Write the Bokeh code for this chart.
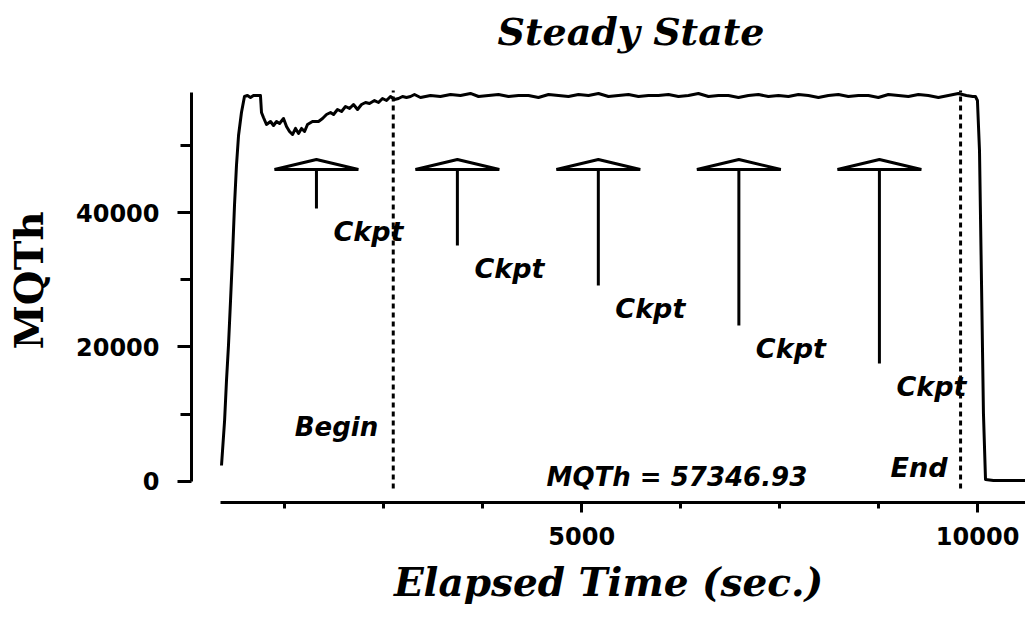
from bokeh.plotting import figure
from bokeh.models import Range1d, FixedTicker
from bokeh.embed import file_html
from bokeh.resources import INLINE
from bokeh.core.properties import value

# ---- data ----
time_s = [451, 490, 514, 539, 565, 590, 615, 640, 666, 703, 741, 779, 817, 855, 905, 943,
          956, 981, 1019, 1070, 1108, 1146, 1184, 1234, 1272, 1310, 1348, 1386, 1424, 1462,
          1500, 1537, 1600, 1676, 1727, 1777, 1828, 1866, 1916, 1967, 2017, 2068, 2118,
          2169, 2219, 2270, 2320, 2383, 2434, 2484, 2535, 2585, 2636, 2686, 2737, 2787,
          2838, 2888, 2964, 3090, 3216, 3343, 3469, 3595, 3697, 3823, 3949, 4076, 4202,
          4328, 4454, 4581, 4707, 4833, 4959, 5086, 5212, 5338, 5464, 5591, 5717, 5843,
          5969, 6096, 6222, 6348, 6474, 6601, 6727, 6853, 6980, 7106, 7232, 7358, 7485,
          7611, 7737, 7863, 7990, 8116, 8242, 8368, 8495, 8621, 8747, 8873, 9000, 9126,
          9252, 9378, 9505, 9631, 9757, 9858, 9939, 9973, 9998, 10024, 10049, 10074,
          10100, 10200, 10400, 10605]
mqth = [2380, 9070, 15020, 20220, 26910, 33610, 41040, 46990, 51450, 54870, 57250, 57400,
        57100, 57400, 57400, 57400, 54870, 54130, 53090, 53530, 52940, 53530, 53240, 53980,
        52790, 52050, 51600, 52500, 51750, 52500, 52050, 53090, 53530, 53530, 53980, 54570,
        54870, 54570, 55320, 55020, 55760, 55470, 56060, 55320, 56060, 56360, 56210, 56650,
        56360, 56950, 56650, 57250, 56800, 56950, 57250, 57100, 57250, 57550, 57100, 57400,
        57250, 57550, 57400, 57700, 57250, 57400, 57550, 57250, 57400, 57400, 57100, 57550,
        57400, 57250, 57550, 57400, 57700, 57250, 57400, 57550, 57250, 57400, 57400, 57550,
        57250, 57400, 57700, 57250, 57400, 57400, 57100, 57400, 57550, 57250, 57400, 57250,
        57550, 57400, 57100, 57400, 57550, 57250, 57400, 57400, 57100, 57550, 57400, 57250,
        57550, 57400, 57100, 57400, 57700, 57400, 57250, 57250, 56650, 49220, 29890, 10110,
        300, 150, 150, 150]

ckpt_time = [1650, 3430, 5210, 6985, 8760]
ckpt_stem_bottom = [40600, 35090, 29150, 23200, 17550]
ckpt_labels = ["Ckpt", "Ckpt", "Ckpt", "Ckpt", "Ckpt"]
begin_time = 2620
end_time = 9785
mqth_mean = 57346.93

x_major = [5000, 10000]
x_minor = [1250, 2500, 3750, 6250, 7500, 8750]
y_major = [0, 20000, 40000]
y_minor = [10000, 30000, 50000]

# ---- style constants ----
TRI_HALF = 530
TRI_BASE = 46390
TRI_APEX = 47880
DASH_LOW = -1040
DASH_HIGH = 58140

p = figure(width=1025, height=618, output_backend="svg", toolbar_location=None,
           x_range=Range1d(72, 10605), y_range=Range1d(-3123, 62900),
           min_border_left=191, min_border_right=0, min_border_top=58,
           min_border_bottom=116, title="Steady State")
p.outline_line_color = None
p.grid.visible = False
p.background_fill_color = "white"

p.title.align = "left"
p.title.offset = 306
p.title.standoff = 10
p.title.text_font = "DejaVu Serif"
p.title.text_font_style = "bold italic"
p.title.text_font_size = "38px"
p.title.text_color = "black"

# main series
p.line(time_s, mqth, line_width=3, line_color="black", line_join="round")

# begin / end dashed markers
p.segment(x0=[begin_time, end_time], y0=[DASH_LOW, DASH_LOW],
          x1=[begin_time, end_time], y1=[DASH_HIGH, DASH_HIGH],
          line_color="black", line_width=3, line_dash="5 4")

# checkpoint markers
xs = [[c - TRI_HALF, c + TRI_HALF, c] for c in ckpt_time]
ys = [[TRI_BASE, TRI_BASE, TRI_APEX] for _ in ckpt_time]
p.patches(xs, ys, fill_color="white", line_color="black", line_width=3)
p.segment(x0=ckpt_time, y0=[TRI_BASE] * len(ckpt_time), x1=ckpt_time, y1=ckpt_stem_bottom,
          line_color="black", line_width=3)

label_font = dict(text_font=value("DejaVu Sans"), text_font_style="bold italic",
                  text_color="black")
p.text(x=ckpt_time, y=ckpt_stem_bottom, text=ckpt_labels, x_offset=17, y_offset=23,
       text_align="left", text_baseline="alphabetic", text_font_size="27px", **label_font)
p.text(x=[begin_time], y=[0], text=["Begin"], x_offset=-15, y_offset=-54,
       text_align="right", text_baseline="alphabetic", text_font_size="26px", **label_font)
p.text(x=[end_time], y=[0], text=["End"], x_offset=-13, y_offset=-14,
       text_align="right", text_baseline="alphabetic", text_font_size="27px", **label_font)
p.text(x=[(begin_time + end_time) / 2], y=[0], text=["MQTh = %.2f" % mqth_mean],
       y_offset=-4, text_align="center", text_baseline="alphabetic",
       text_font_size="26px", **label_font)

# axes
xa = p.xaxis[0]
ya = p.yaxis[0]
xa.ticker = FixedTicker(ticks=x_major, minor_ticks=x_minor)
ya.ticker = FixedTicker(ticks=y_major, minor_ticks=y_minor)
xa.bounds = (440, 10605)
ya.bounds = (0, 57845)
for ax in (xa, ya):
    ax.axis_line_width = 3
    ax.axis_line_color = "black"
    ax.major_tick_line_width = 3
    ax.minor_tick_line_width = 3
    ax.major_tick_line_color = "black"
    ax.minor_tick_line_color = "black"
    ax.major_tick_in = 0
    ax.minor_tick_in = 0
    ax.major_label_text_font = "DejaVu Sans"
    ax.major_label_text_font_style = "bold"
    ax.major_label_text_font_size = "24px"
    ax.major_label_text_color = "black"
    ax.axis_label_text_color = "black"
    ax.axis_label_text_font = "DejaVu Serif"

xa.major_tick_out = 10
xa.minor_tick_out = 6
xa.major_label_standoff = 14
xa.axis_label = "Elapsed Time (sec.)"
xa.axis_label_text_font_style = "bold italic"
xa.axis_label_text_font_size = "39px"
xa.axis_label_standoff = 11

ya.major_tick_out = 14
ya.minor_tick_out = 11
ya.major_label_standoff = 18
ya.axis_label = "MQTh"
ya.axis_label_text_font_style = "bold"
ya.axis_label_text_font_size = "40px"
ya.axis_label_standoff = 21

open("out.html", "w").write(file_html(p, INLINE))
